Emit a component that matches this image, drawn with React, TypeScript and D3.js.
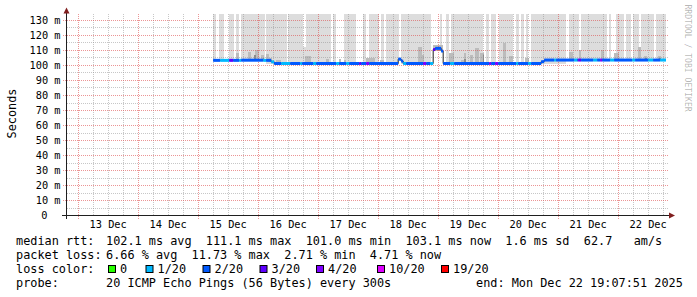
import React from 'react';
import * as d3 from 'd3';

const W = 697;
const H = 297;

// ---- data ----
const dayLabels = ["13 Dec", "14 Dec", "15 Dec", "16 Dec", "17 Dec", "18 Dec", "19 Dec", "20 Dec", "21 Dec", "22 Dec"];
const yTickValues = [0, 10, 20, 30, 40, 50, 60, 70, 80, 90, 100, 110, 120, 130];
const lossLabels = ["0", "1/20", "2/20", "3/20", "4/20", "10/20", "19/20"];
const lossColors = ["#26ff00", "#00b8ff", "#0059ff", "#5e00ff", "#7e00ff", "#dd00ff", "#ff0000"];

// time in hours since 15 Dec 00:00 UTC; values in ms
const medianStart = [6.0, 8.8, 12.4, 14.0, 16.4, 17.2, 26.0, 27.2, 29.2, 30.4, 33.2, 36.8, 40.8, 41.6, 46.0, 47.2,
  55.2, 56.4, 59.2, 60.4, 64.4, 65.2, 67.2, 68.4, 80.0, 81.2, 82.0, 83.2, 90.0, 91.2, 92.8, 94.0, 94.8, 97.2, 98.0,
  100.8, 102.4, 116.4, 117.2, 118.8, 120.0, 127.2, 128.0, 132.0, 133.2, 137.2, 138.4, 142.4, 143.2, 150.4, 151.6,
  152.0, 153.2, 158.0, 159.6, 160.8, 161.6, 164.8, 166.4, 173.6, 174.8, 180.0, 182.0, 184.8];
const medianValue = [103.1, 103.1, 103.1, 103.1, 103.1, 103.2, 103.1, 103.1, 102.1, 101.0, 101.0, 101.0, 101.0, 101.0,
  101.0, 101.0, 101.0, 101.0, 101.0, 101.0, 101.0, 101.0, 101.0, 101.0, 103.9, 102.6, 101.0, 101.0, 101.0, 101.0,
  101.0, 110.3, 111.1, 109.3, 101.0, 101.0, 101.0, 101.0, 101.0, 101.0, 101.0, 101.0, 101.0, 101.0, 101.0, 102.2,
  103.3, 103.3, 103.3, 103.3, 103.3, 103.3, 103.3, 103.3, 103.3, 103.3, 103.3, 103.3, 103.3, 103.3, 103.3, 103.3,
  103.3, 103.3];
const medianLoss = [2, 1, 3, 2, 1, 2, 1, 2, 1, 2, 1, 2, 1, 2, 1, 2, 1, 2, 1, 2, 3, 2, 4, 2, 2, 2, 1, 2, 4, 2, 1, 3,
  2, 2, 2, 1, 2, 4, 2, 4, 2, 1, 2, 1, 2, 2, 2, 1, 2, 1, 2, 3, 2, 1, 2, 4, 2, 1, 2, 1, 2, 1, 2, 1];
const dataEnd = 187.13;

// smoke: shade 0 = light, 1 = mid, 2 = dark; top in ms (values above the chart are clipped)
const smokeStart = [6.0, 8.4, 12.4, 15.2, 17.2, 27.2, 36.0, 42.0, 43.2, 54.0, 58.4, 66.0, 68.4, 73.2, 75.2, 81.2,
  93.2, 96.8, 99.2, 101.2, 115.2, 117.2, 120.4, 127.2, 129.2, 131.2, 133.2, 148.4, 153.2, 164.4, 167.2, 171.2, 174.0,
  177.2, 183.2,
  15.2, 20.0, 22.8, 25.2, 27.2, 28.4, 31.2, 42.8, 51.2, 56.4, 58.4, 67.2, 68.4, 72.8, 88.0, 89.6, 94.0, 100.4, 105.2,
  106.4, 108.8, 110.8, 112.8, 122.0, 124.4, 130.8, 148.4, 152.4, 161.2, 166.4, 176.0, 178.4, 184.0,
  22.4, 26.0, 106.4, 114.0, 178.8, 184.4];
const smokeEnd = [7.2, 10.4, 14.4, 16.4, 26.8, 35.6, 42.0, 43.2, 53.2, 55.2, 63.2, 67.2, 72.4, 74.4, 80.4, 93.2,
  94.0, 97.6, 100.4, 114.0, 116.4, 119.2, 126.0, 128.4, 130.4, 132.0, 147.2, 152.4, 163.6, 165.2, 170.4, 173.2, 176.4,
  182.4, 187.13,
  16.4, 21.2, 24.4, 26.4, 28.4, 29.6, 33.2, 45.2, 52.4, 57.2, 59.2, 68.4, 70.8, 74.4, 89.6, 90.4, 98.0, 102.4, 106.4,
  107.2, 110.0, 112.4, 114.4, 123.2, 126.0, 132.4, 150.0, 153.2, 162.4, 168.4, 177.2, 179.6, 185.2,
  23.2, 26.4, 107.2, 114.4, 179.6, 185.2];
const smokeTop = [140, 140, 140, 140, 140, 140, 140, 112, 140, 140, 140, 140, 140, 140, 140, 140,
  102, 140, 140, 140, 140, 140, 140, 140, 140, 140, 140, 140, 140, 140, 140, 140, 140, 140, 140,
  108, 109, 110, 107, 107.5, 105, 103.5, 106, 104, 104, 103.5, 104.5, 105, 103.5, 112, 107, 113.5, 108, 103.5,
  108, 107, 111.5, 108, 115, 106, 105, 109, 110, 110, 108, 111.7, 106, 106,
  106.5, 105, 104, 106.5, 104.5, 105];
const smokeShade = [0, 0, 0, 0, 0, 0, 0, 0, 0, 0, 0, 0, 0, 0, 0, 0, 0, 0, 0, 0, 0, 0, 0, 0, 0, 0, 0, 0, 0, 0, 0, 0, 0, 0, 0,
  1, 1, 1, 1, 1, 1, 1, 1, 1, 1, 1, 1, 1, 1, 1, 1, 1, 1, 1, 1, 1, 1, 1, 1, 1, 1, 1, 1, 1, 1, 1, 1, 1,
  2, 2, 2, 2, 2, 2];
const smokeColors = ["#dddddd", "#bcbcbc", "#8c8c8c"];

const legendLines = [
  ["median rtt:", "102.1 ms avg  111.1 ms max  101.0 ms min  103.1 ms now  1.6 ms sd  62.7   am/s"],
  ["packet loss:", "6.66 % avg  11.73 % max  2.71 % min  4.71 % now"],
];
const probeText = "20 ICMP Echo Pings (56 Bytes) every 300s";
const endText = "end: Mon Dec 22 19:07:51 2025";

// ---- layout ----
const MONO = "'DejaVu Sans Mono', monospace";
const legendFont = 11.85;
const axisFont = 10.3;
const plotLeft = 66;
const plotRight = 666;
const plotTop = 14;
const plotBottom = 215;
const boxX = [108.5, 146, 203, 260, 316.5, 377.5, 441.5];

const startTime = new Date(Date.UTC(2025, 11, 12, 19, 7, 51));
const endTime = new Date(Date.UTC(2025, 11, 22, 19, 7, 51));
const baseTime = Date.UTC(2025, 11, 15, 0, 0, 0);
const hToDate = (h: number) => new Date(baseTime + h * 3600e3);

export default function App() {
  const x = d3.scaleUtc().domain([startTime, endTime]).range([plotLeft, plotRight]);
  const y = d3.scaleLinear().domain([0, 134]).range([plotBottom, plotTop]);
  const X = (h: number) => x(hToDate(h));

  const segEnd = (i: number) => (i + 1 < medianStart.length ? medianStart[i + 1] : dataEnd);
  const minMedian = (a: number, b: number) => {
    let m = Infinity;
    medianStart.forEach((s, i) => {
      if (s < b && segEnd(i) > a) m = Math.min(m, medianValue[i]);
    });
    return m === Infinity ? 100 : m;
  };

  const days = d3.utcDay.range(d3.utcDay.ceil(startTime), endTime);
  const sixHours = d3.utcHour.every(6)!.range(startTime, endTime).filter((d) => d.getUTCHours() !== 0);
  const px = (v: number) => Math.round(v) + 0.5;

  const minorY = d3.range(5, 135, 10);
  const majorY = yTickValues.filter((v) => v > 0);

  const linePts: [number, number][] = medianStart.map((s, i) => [X(s), y(medianValue[i])]);
  linePts.push([X(dataEnd), y(medianValue[medianValue.length - 1])]);
  const stepLine = d3.line().curve(d3.curveStepAfter)(linePts) || "";

  const gridGray = "rgba(143,143,143,0.5)";
  const gridRed = "rgba(222,79,79,0.6)";

  return (
    <>
      <style>{`body{margin:0;background:#fff}`}</style>
      <svg width={W} height={H} style={{ display: 'block' }} fontFamily={MONO}>
        <rect x={0} y={0} width={W} height={H} fill="#fff" />
        <defs>
          <clipPath id="plot">
            <rect x={plotLeft + 1} y={plotTop} width={plotRight - plotLeft} height={plotBottom - plotTop} />
          </clipPath>
        </defs>

        {/* smoke */}
        <g clipPath="url(#plot)">
          {smokeStart.map((s, i) => {
            const e = smokeEnd[i];
            const bottom = minMedian(s, e);
            const x0 = X(s), x1 = X(e);
            const yt = y(smokeTop[i]);
            const yb = y(bottom);
            return (
              <rect key={i} x={x0} width={Math.max(0, x1 - x0)} y={yt} height={Math.max(0, yb - yt)}
                fill={smokeColors[smokeShade[i]]} shapeRendering="crispEdges" />
            );
          })}
        </g>

        {/* grid */}
        <g strokeDasharray="1,1" strokeWidth={1} shapeRendering="crispEdges">
          {minorY.map((v) => (
            <line key={'my' + v} x1={plotLeft + 0.5} x2={668} y1={px(y(v))} y2={px(y(v))} stroke={gridGray} />
          ))}
          {sixHours.map((d, i) => (
            <line key={'mx' + i} x1={px(x(d))} x2={px(x(d))} y1={plotTop} y2={plotBottom} stroke={gridGray} />
          ))}
          {majorY.map((v) => (
            <line key={'My' + v} x1={62.5} x2={668} y1={px(y(v))} y2={px(y(v))} stroke={gridRed} />
          ))}
          {days.map((d, i) => (
            <line key={'Mx' + i} x1={px(x(d))} x2={px(x(d))} y1={plotTop} y2={219} stroke={gridRed} />
          ))}
        </g>

        {/* median line */}
        <path d={stepLine} fill="none" stroke="#202020" strokeWidth={1} />
        {medianStart.map((s, i) => {
          const x0 = X(s), x1 = X(segEnd(i));
          return (
            <rect key={'m' + i} x={x0} width={x1 - x0} y={y(medianValue[i]) - 1.5} height={3}
              fill={lossColors[medianLoss[i]]} />
          );
        })}

        {/* axes */}
        <line x1={66.5} x2={66.5} y1={219} y2={12} stroke="#1f1f1f" strokeWidth={1} />
        <line x1={62} x2={670} y1={215.5} y2={215.5} stroke="#1f1f1f" strokeWidth={1} />
        <path d="M63.5,13.5 L69.5,13.5 L66.5,7.5 Z" fill="#801f1f" />
        <path d="M669,212.5 L669,218.5 L675,215.5 Z" fill="#801f1f" />

        {/* y labels */}
        {yTickValues.map((v) => (
          <text key={'yl' + v} x={v === 0 ? 47.5 : 60.5} y={y(v) + 4} fontSize={axisFont} textAnchor="end" fill="#000">
            {v === 0 ? "0" : `${v} m`}
          </text>
        ))}

        {/* x labels */}
        {days.map((d, i) => (
          <text key={'xl' + i} x={x(new Date(+d + 12 * 3600e3))} y={228} fontSize={axisFont} textAnchor="middle" fill="#000">
            {dayLabels[i]}
          </text>
        ))}

        {/* y title */}
        <text transform="translate(15.5,113.5) rotate(-90)" fontSize={legendFont} textAnchor="middle" fill="#000">
          Seconds
        </text>

        {/* watermark */}
        <text transform="translate(685,4.5) rotate(90)" fontSize={8.1} fill="#000" fillOpacity={0.3}>
          RRDTOOL / TOBI OETIKER
        </text>

        {/* legend */}
        {legendLines.map((l, i) => (
          <g key={'lg' + i}>
            <text x={16} y={245 + i * 14} fontSize={legendFont} fill="#000">{l[0]}</text>
            <text x={106} y={245 + i * 14} fontSize={legendFont} fill="#000" xmlSpace="preserve" style={{ whiteSpace: 'pre' }}>{l[1]}</text>
          </g>
        ))}
        <text x={16} y={273} fontSize={legendFont} fill="#000">loss color:</text>
        {lossLabels.map((lab, i) => (
          <g key={'lc' + i}>
            <rect x={boxX[i]} y={265.5} width={7} height={7} fill={lossColors[i]} stroke="#000" strokeWidth={1} />
            <text x={boxX[i] + 11.5} y={273} fontSize={legendFont} fill="#000">{lab}</text>
          </g>
        ))}
        <text x={16} y={287} fontSize={legendFont} fill="#000">probe:</text>
        <text x={106} y={287} fontSize={legendFont} fill="#000">{probeText}</text>
        <text x={476} y={287} fontSize={legendFont} fill="#000">{endText}</text>
      </svg>
    </>
  );
}
